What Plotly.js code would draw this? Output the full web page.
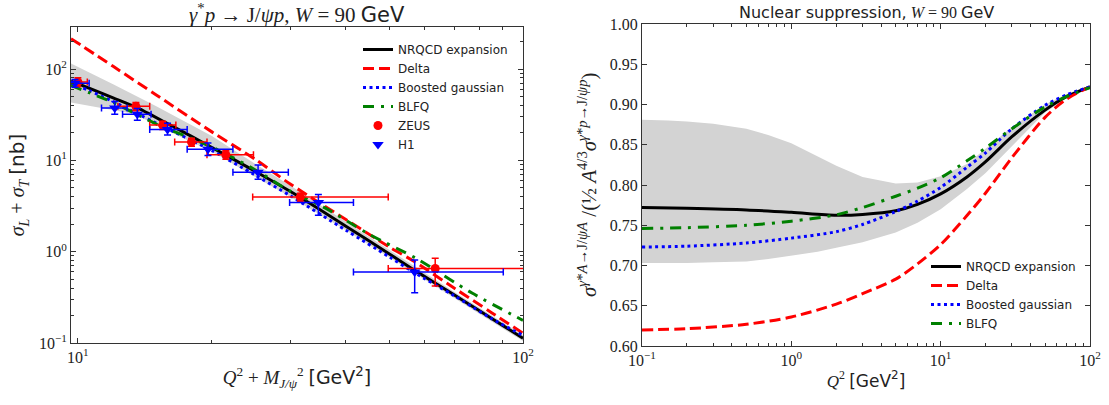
<!DOCTYPE html>
<html>
<head>
<meta charset="utf-8">
<script src="https://cdn.plot.ly/plotly-3.0.1.min.js"></script>
<style>html,body{margin:0;padding:0;background:#fff;}</style>
</head>
<body>
<div id="chart" style="width:1109px;height:405px;"></div>
<script>
// ---------- Left panel: gamma* p -> J/psi p ----------
const lx_nrqcd = [9.65, 10, 12, 13.5, 16, 18, 21.5, 25, 31.5, 40, 50, 57, 70, 80, 90, 100];
const ly_nrqcd = [73.5, 69, 48.4, 38.2, 24.8, 18.3, 11.4, 7.6, 3.97, 1.90, 0.95, 0.628, 0.337, 0.224, 0.156, 0.113];

const lx_delta = [9.65, 12, 15, 20, 25, 30, 40, 50, 57, 70, 85, 100];
const ly_delta = [215, 107, 52, 20.5, 10.3, 5.5, 2.25, 1.13, 0.78, 0.40, 0.215, 0.128];

const lx_bg = [9.65, 10.6, 12, 15, 20, 25, 30, 40, 50, 57, 70, 85, 100];
const ly_bg = [70, 58, 44, 25.5, 12.8, 6.9, 4.1, 1.72, 0.88, 0.59, 0.33, 0.185, 0.121];

const lx_blfq = [9.65, 10.6, 12, 15, 20, 25, 30, 36, 45, 57.5, 77, 100];
const ly_blfq = [66, 55, 43, 25, 14.0, 7.9, 4.6, 3.0, 1.56, 0.845, 0.35, 0.177];

const lx_band = [9.65, 12, 13.5, 15, 20, 25, 30, 40, 50, 60, 70, 85, 100];
const ly_band_hi = [115, 68, 51, 39, 18.5, 9.2, 5.3, 2.13, 1.05, 0.59, 0.365, 0.2, 0.122];
const ly_band_lo = [43, 35.5, 32, 24, 12.5, 6.6, 4.0, 1.72, 0.87, 0.5, 0.31, 0.172, 0.105];

// ZEUS data
const zeus_x = [10.0, 13.5, 15.5, 18.0, 21.5, 31.6, 63.5];
const zeus_y = [72, 39, 24.3, 15.9, 11.5, 3.97, 0.655];
const zeus_xm = [0.4, 1.2, 1.0, 1.5, 2.0, 6.9, 13.7];
const zeus_xp = [0.5, 1.0, 1.1, 1.5, 3.3, 18.2, 56];
const zeus_ym = [8, 4, 2.5, 1.6, 1.2, 0.4, 0.235];
const zeus_yp = [8, 4, 2.5, 1.6, 1.2, 0.4, 0.19];

// H1 data
const h1_x = [9.85, 12.1, 13.6, 15.9, 19.6, 25.4, 34.7, 57.1];
const h1_y = [70, 37.5, 32, 21.8, 13.2, 7.4, 3.45, 0.60];
const h1_xm = [0.65, 0.8, 1.0, 1.4, 2.0, 3.1, 4.8, 15.5];
const h1_xp = [0.75, 0.8, 1.0, 1.7, 2.7, 4.3, 6.9, 33.2];
const h1_ym = [7, 5.5, 4.5, 2.8, 1.9, 1.2, 0.94, 0.245];
const h1_yp = [7, 6.5, 5, 3.7, 2.3, 1.5, 0.77, 0.21];

// ---------- Right panel: nuclear suppression ----------
const rx = [0.1, 0.2, 0.5, 1, 2, 3, 5, 7, 10, 15, 20, 30, 50, 70, 100];
const ry_nrqcd = [0.772, 0.771, 0.769, 0.766, 0.7625, 0.7635, 0.768, 0.776, 0.789, 0.810, 0.829, 0.860, 0.893, 0.910, 0.922];
const ry_delta = [0.620, 0.6215, 0.627, 0.636, 0.652, 0.665, 0.683, 0.702, 0.726, 0.762, 0.790, 0.834, 0.884, 0.907, 0.922];
const ry_bg    = [0.723, 0.724, 0.728, 0.734, 0.742, 0.751, 0.767, 0.780, 0.797, 0.822, 0.840, 0.870, 0.899, 0.912, 0.922];
const ry_blfq  = [0.746, 0.747, 0.750, 0.755, 0.763, 0.772, 0.786, 0.796, 0.809, 0.830, 0.846, 0.870, 0.897, 0.910, 0.921];

const rx_band = [0.1, 0.15, 0.2, 0.3, 0.5, 0.7, 1, 1.5, 2, 3, 5, 7, 10, 15, 20, 30, 50, 70, 100];
const ry_band_hi = [0.881, 0.880, 0.879, 0.876, 0.870, 0.862, 0.852, 0.836, 0.824, 0.810, 0.802, 0.803, 0.811, 0.826, 0.845, 0.872, 0.900, 0.913, 0.923];
const ry_band_lo = [0.703, 0.703, 0.703, 0.704, 0.705, 0.708, 0.712, 0.717, 0.722, 0.729, 0.741, 0.753, 0.770, 0.795, 0.815, 0.848, 0.890, 0.908, 0.921];

// tick labels
const lx_tickvals = [10, 100];
const lx_ticktext = ['10<sup>1</sup>', '10<sup>2</sup>'];
const ly_tickvals = [0.1, 1, 10, 100];
const ly_ticktext = ['10<sup>−1</sup>', '10<sup>0</sup>', '10<sup>1</sup>', '10<sup>2</sup>'];
const rx_tickvals = [0.1, 1, 10, 100];
const rx_ticktext = ['10<sup>−1</sup>', '10<sup>0</sup>', '10<sup>1</sup>', '10<sup>2</sup>'];

function minorLog(decades, maxv) {
  const out = [];
  decades.forEach(d => { for (let k = 2; k <= 9; k++) { const v = k * d; if (v <= maxv) out.push(v); } });
  return out;
}

const RED = '#ff0000', BLUE = '#0000ff', GREEN = '#008000';
const SERIF = 'Liberation Serif, DejaVu Serif, serif';
const SANS = 'DejaVu Sans, sans-serif';

function polygon(x, lo, hi) {
  return { x: x.concat(x.slice().reverse()), y: lo.concat(hi.slice().reverse()) };
}
const lband = polygon(lx_band, ly_band_lo, ly_band_hi);
const rband = polygon(rx_band, ry_band_lo, ry_band_hi);

function ln(color, dash) {
  const o = {color: color, width: 3, shape: 'spline', smoothing: 0.8};
  if (dash) o.dash = dash;
  return o;
}

const traces = [
  {x: lband.x, y: lband.y, xaxis:'x', yaxis:'y', mode:'lines', fill:'toself', fillcolor:'#d3d3d3',
   line:{width:0, color:'#d3d3d3'}, showlegend:false, hoverinfo:'skip'},
  {x: lx_nrqcd, y: ly_nrqcd, xaxis:'x', yaxis:'y', mode:'lines', name:'NRQCD expansion', legend:'legend',
   line: ln('#000')},
  {x: lx_delta, y: ly_delta, xaxis:'x', yaxis:'y', mode:'lines', name:'Delta', legend:'legend',
   line: ln(RED, '11px,5px')},
  {x: lx_bg, y: ly_bg, xaxis:'x', yaxis:'y', mode:'lines', name:'Boosted gaussian', legend:'legend',
   line: ln(BLUE, '3px,3.5px')},
  {x: lx_blfq, y: ly_blfq, xaxis:'x', yaxis:'y', mode:'lines', name:'BLFQ', legend:'legend',
   line: ln(GREEN, '11px,7px,3px,7px')},
  {x: zeus_x, y: zeus_y, xaxis:'x', yaxis:'y', mode:'markers', name:'ZEUS', legend:'legend',
   marker:{color:RED, size:9, symbol:'circle'},
   error_x:{type:'data', symmetric:false, array:zeus_xp, arrayminus:zeus_xm, color:RED, thickness:1.5, width:3.5},
   error_y:{type:'data', symmetric:false, array:zeus_yp, arrayminus:zeus_ym, color:RED, thickness:1.5, width:3.5}},
  {x: h1_x, y: h1_y, xaxis:'x', yaxis:'y', mode:'markers', name:'H1', legend:'legend',
   marker:{color:BLUE, size:10, symbol:'triangle-down'},
   error_x:{type:'data', symmetric:false, array:h1_xp, arrayminus:h1_xm, color:BLUE, thickness:1.5, width:3.5},
   error_y:{type:'data', symmetric:false, array:h1_yp, arrayminus:h1_ym, color:BLUE, thickness:1.5, width:3.5}},

  {x: rband.x, y: rband.y, xaxis:'x2', yaxis:'y2', mode:'lines', fill:'toself', fillcolor:'#d3d3d3',
   line:{width:0, color:'#d3d3d3'}, showlegend:false, hoverinfo:'skip'},
  {x: rx, y: ry_nrqcd, xaxis:'x2', yaxis:'y2', mode:'lines', name:'NRQCD expansion', legend:'legend2',
   line: ln('#000')},
  {x: rx, y: ry_delta, xaxis:'x2', yaxis:'y2', mode:'lines', name:'Delta', legend:'legend2',
   line: ln(RED, '11px,5px')},
  {x: rx, y: ry_bg, xaxis:'x2', yaxis:'y2', mode:'lines', name:'Boosted gaussian', legend:'legend2',
   line: ln(BLUE, '3px,3.5px')},
  {x: rx, y: ry_blfq, xaxis:'x2', yaxis:'y2', mode:'lines', name:'BLFQ', legend:'legend2',
   line: ln(GREEN, '11px,7px,3px,7px')}
];

const axBase = {
  showline:true, linecolor:'#333', linewidth:1, mirror:'ticks', ticks:'inside', ticklen:5, tickwidth:1,
  tickcolor:'#333', showgrid:false, zeroline:false,
  tickfont:{family:SERIF, size:16, color:'#222'}
};

const W = 1109, H = 405;
const layout = {
  width:W, height:H, margin:{l:0, r:0, t:0, b:0},
  paper_bgcolor:'#fff', plot_bgcolor:'#fff',
  xaxis: Object.assign({}, axBase, {
    type:'log', domain:[71/W, 523/W], range:[Math.log10(9.65), 2], anchor:'y',
    tickmode:'array', tickvals:lx_tickvals, ticktext:lx_ticktext,
    minor:{tickmode:'array', tickvals:minorLog([10], 100), ticks:'inside', ticklen:3, tickcolor:'#333', showgrid:false},
    title:{text:'<i>Q</i><sup>2</sup> + <i>M</i><sub><i>J/ψ</i></sub><sup>2</sup> <span style="font-family:DejaVu Sans">[GeV<sup>2</sup>]</span>',
           font:{family:SERIF, size:19, color:'#222'}, standoff:5}
  }),
  yaxis: Object.assign({}, axBase, {
    type:'log', domain:[1-343/H, 1-27/H], range:[-1, 2.46], anchor:'x',
    tickmode:'array', tickvals:ly_tickvals, ticktext:ly_ticktext,
    minor:{tickmode:'array', tickvals:minorLog([0.1, 1, 10, 100], 280), ticks:'inside', ticklen:3, tickcolor:'#333', showgrid:false},
    title:{text:'<i>σ</i><sub><i>L</i></sub> + <i>σ</i><sub><i>T</i></sub> <span style="font-family:DejaVu Sans">[nb]</span>',
           font:{family:SERIF, size:20, color:'#222'}, standoff:8}
  }),
  xaxis2: Object.assign({}, axBase, {
    type:'log', domain:[642/W, 1090/W], range:[-1, 2], anchor:'y2',
    tickmode:'array', tickvals:rx_tickvals, ticktext:rx_ticktext,
    minor:{tickmode:'array', tickvals:minorLog([0.1, 1, 10], 100), ticks:'inside', ticklen:3, tickcolor:'#333', showgrid:false},
    title:{text:'<i>Q</i><sup>2</sup> <span style="font-family:DejaVu Sans">[GeV<sup>2</sup>]</span>',
           font:{family:SERIF, size:17, color:'#222'}, standoff:6}
  }),
  yaxis2: Object.assign({}, axBase, {
    domain:[1-346/H, 1-24/H], range:[0.6, 1.0], anchor:'x2', tickmode:'linear', tick0:0.6, dtick:0.05, tickformat:'.2f'
  }),
  legend: {x:358/W, y:1-35/H, xanchor:'left', yanchor:'top', bgcolor:'rgba(0,0,0,0)', borderwidth:0,
           font:{family:SANS, size:12, color:'#222'}},
  legend2: {x:926/W, y:1-252/H, xanchor:'left', yanchor:'top', bgcolor:'rgba(0,0,0,0)', borderwidth:0,
           font:{family:SANS, size:12, color:'#222'}},
  annotations: [
    {text:'<i>γ</i><sup>*</sup><i>p</i> → J/<i>ψp</i>, <i>W</i> = 90 <span style="font-family:DejaVu Sans">GeV</span>',
     xref:'paper', yref:'paper', x:297/W, y:1-13/H, xanchor:'center', yanchor:'middle', showarrow:false,
     font:{family:SERIF, size:21, color:'#222'}},
    {text:'<span style="font-family:DejaVu Sans">Nuclear suppression,</span> <i>W</i> = 90 <span style="font-family:DejaVu Sans">GeV</span>',
     xref:'paper', yref:'paper', x:866/W, y:1-12/H, xanchor:'center', yanchor:'middle', showarrow:false,
     font:{family:SERIF, size:16, color:'#222'}},
    {text:'<i>σ</i><sup><i>γ</i>*<i>A</i>→J/<i>ψA</i></sup> /(½ <i>A</i><sup>4/3</sup><i>σ</i><sup><i>γ</i>*<i>p</i>→J/<i>ψp</i></sup>)',
     xref:'paper', yref:'paper', x:587/W, y:1-185/H, xanchor:'center', yanchor:'middle', textangle:-90, showarrow:false,
     font:{family:SERIF, size:21, color:'#222'}}
  ]
};

Plotly.newPlot('chart', traces, layout, {displayModeBar:false, staticPlot:true});
</script>
</body>
</html>
